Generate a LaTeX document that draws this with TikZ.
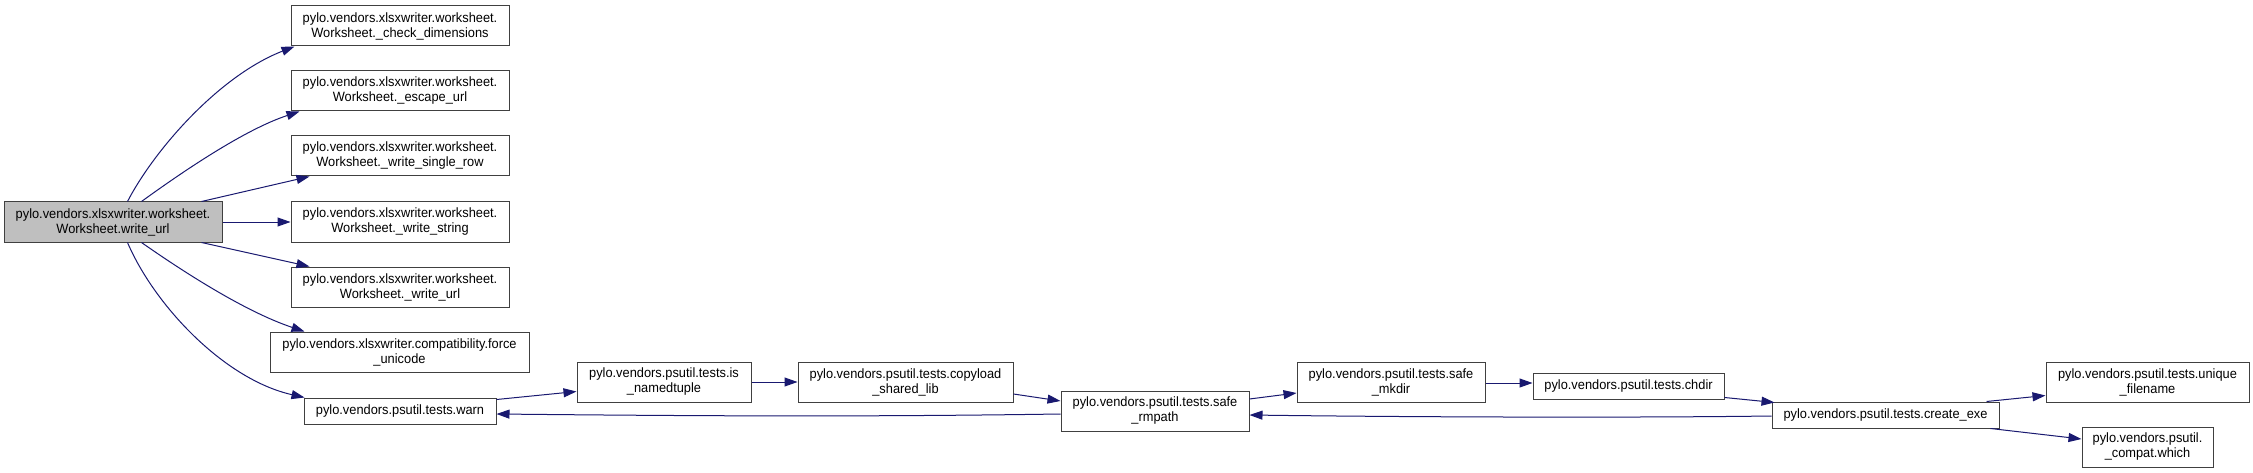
\documentclass[tikz,border=0pt]{standalone}
\usepackage{fontspec}
\setmainfont{Liberation Sans}[FakeStretch=0.95]
\usetikzlibrary{arrows.meta,calc}
\definecolor{edgeblue}{RGB}{25,25,112}
\definecolor{boxline}{RGB}{64,64,64}
\definecolor{mainfill}{RGB}{191,191,191}
\begin{document}
\begin{tikzpicture}[x=1pt,y=-1pt,
  fn/.style={draw=boxline,line width=1pt,rectangle,inner sep=0pt,align=center,
    font=\fontsize{13.5}{15}\selectfont,minimum height=40pt},
  mainfn/.style={fn,fill=mainfill},
  call/.style={draw=edgeblue,line width=1pt,-{Triangle[length=13pt,width=9pt]},fill=none},
]
\useasboundingbox (0,0) rectangle (2253,473);
\fill[white] (0,0) rectangle (2253,473);

\node[mainfn,minimum width=218pt] (main) at (113,222) {pylo.vendors.xlsxwriter.worksheet.\\Worksheet.write\_url};
\node[fn,minimum width=218pt] (check) at (400,26) {pylo.vendors.xlsxwriter.worksheet.\\Worksheet.\_check\_dimensions};
\node[fn,minimum width=218pt] (escape) at (400,91) {pylo.vendors.xlsxwriter.worksheet.\\Worksheet.\_escape\_url};
\node[fn,minimum width=218pt] (single) at (400,156) {pylo.vendors.xlsxwriter.worksheet.\\Worksheet.\_write\_single\_row};
\node[fn,minimum width=218pt] (string) at (400,222) {pylo.vendors.xlsxwriter.worksheet.\\Worksheet.\_write\_string};
\node[fn,minimum width=218pt] (wurl) at (400,287) {pylo.vendors.xlsxwriter.worksheet.\\Worksheet.\_write\_url};
\node[fn,minimum width=259pt] (force) at (399.5,352) {pylo.vendors.xlsxwriter.compatibility.force\\\_unicode};
\node[fn,minimum width=192pt,minimum height=26pt] (warn) at (400,411) {pylo.vendors.psutil.tests.warn};
\node[fn,minimum width=174pt] (isnamed) at (664,382) {pylo.vendors.psutil.tests.is\\\_namedtuple};
\node[fn,minimum width=215pt] (copyload) at (905.5,382) {pylo.vendors.psutil.tests.copyload\\\_shared\_lib};
\node[fn,minimum width=188pt] (rmpath) at (1155,411) {pylo.vendors.psutil.tests.safe\\\_rmpath};
\node[fn,minimum width=188pt] (mkdir) at (1391,382) {pylo.vendors.psutil.tests.safe\\\_mkdir};
\node[fn,minimum width=191pt,minimum height=26pt] (chdir) at (1628.5,386) {pylo.vendors.psutil.tests.chdir};
\node[fn,minimum width=227pt,minimum height=26pt] (create) at (1885.5,415) {pylo.vendors.psutil.tests.create\_exe};
\node[fn,minimum width=203pt] (unique) at (2147.5,382) {pylo.vendors.psutil.tests.unique\\\_filename};
\node[fn,minimum width=131pt] (which) at (2147.5,447) {pylo.vendors.psutil.\\\_compat.which};

% calls from main
\draw[call] ($(main.north west)+(124,0)$) .. controls +(27,-52) and +(-75,29) .. ($(check.south west)+(4,0)$);
\draw[call] ($(main.north west)+(138,0)$) .. controls +(40,-29) and +(-55,18) .. ($(escape.south west)+(9,0)$);
\draw[call] ($(main.north west)+(198,0)$) -- ($(single.south west)+(19,0)$);
\draw[call] (main.east) -- (string.west);
\draw[call] ($(main.south west)+(198,0)$) -- ($(wurl.north west)+(19,0)$);
\draw[call] ($(main.south west)+(138,0)$) .. controls +(40,28) and +(-60,-20) .. ($(force.north west)+(35,0)$);
\draw[call] ($(main.south west)+(124,0)$) .. controls +(27,63) and +(-80,-18) .. ($(warn.north west)+(1,0)$);

% psutil chain
\draw[call] ($(warn.north east)+(0,2)$) -- ($(isnamed.south west)+(0,-11)$);
\draw[call] (isnamed.east) -- (copyload.west);
\draw[call] ($(copyload.east)+(0,12)$) -- ($(rmpath.west)+(0,-10)$);
\draw[call] ($(rmpath.west)+(0,3)$) .. controls +(-200,3) and +(200,2) .. ($(warn.east)+(0,3)$);
\draw[call] ($(rmpath.east)+(0,-12)$) -- ($(mkdir.west)+(0,11)$);
\draw[call] ($(create.west)+(0,1)$) .. controls +(-150,2) and +(150,2) .. ($(rmpath.east)+(0,4)$);
\draw[call] ($(mkdir.east)+(0,1)$) -- ($(chdir.west)+(0,-3)$);
\draw[call] ($(chdir.south east)+(0,-2)$) -- ($(create.north west)+(3,1)$);
\draw[call] ($(create.north east)+(-13,0)$) -- ($(unique.south west)+(0,-7)$);
\draw[call] ($(create.south east)+(-9,0)$) -- ($(which.west)+(0,-8)$);
\end{tikzpicture}
\end{document}
